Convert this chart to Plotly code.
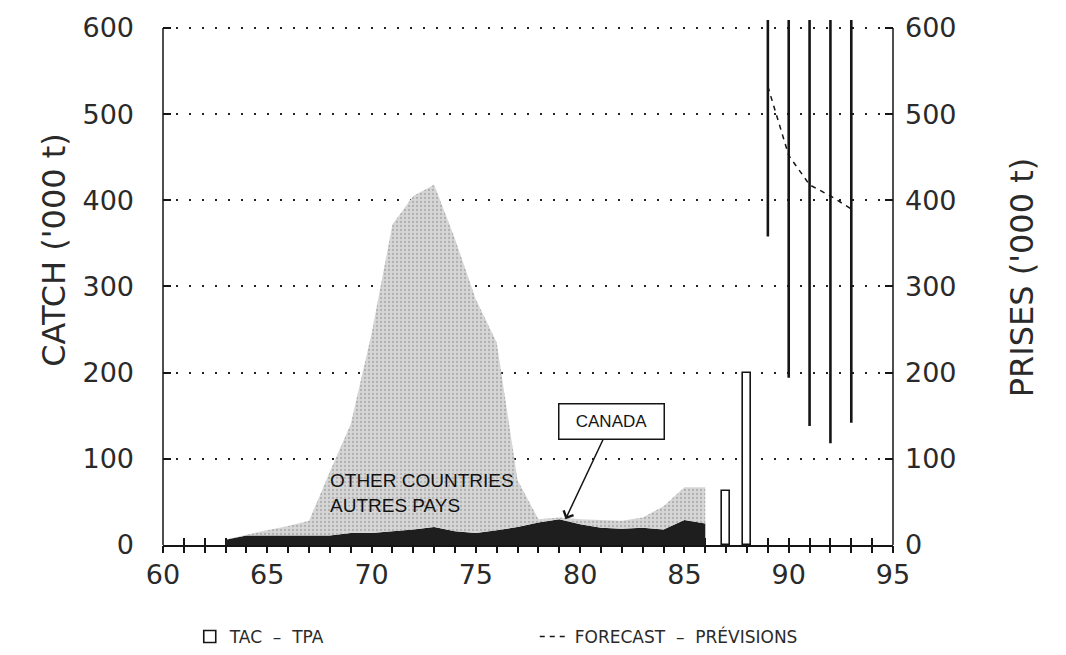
import plotly.graph_objects as go

# Catch by fishing year ('000 t)
years = list(range(63, 87))
canada = [6, 11, 11, 11, 11, 11, 14, 14, 16, 18, 21, 16, 14, 17, 21, 26, 30, 24, 20, 19, 20, 18, 29, 25]
other_countries = [0, 1, 6, 11, 17, 74, 126, 231, 356, 387, 397, 339, 271, 218, 54, 4, 2, 6, 9, 9, 12, 27, 38, 42]

# Total allowable catch
tac_years = [87, 88]
tac = [63, 200]

# Forecast ranges and central forecast
fc_years = [89, 90, 91, 92, 93]
fc_low = [358, 194, 138, 118, 142]
fc_high = [650, 650, 650, 650, 650]
forecast = [532, 452, 418, 405, 390]

x_ticks = list(range(60, 96))
x_labels = [str(v) if v % 5 == 0 else "" for v in x_ticks]
y_ticks = [0, 100, 200, 300, 400, 500, 600]
y_labels = [str(v) for v in y_ticks]

INK = "#151515"
TEXT = "#2a2a2a"
TICK_FONT = dict(family="DejaVu Sans", size=27, color=TEXT)
TITLE_FONT = dict(family="DejaVu Sans", size=32, color=TEXT)

fig = go.Figure()

fig.add_trace(go.Scatter(
    x=years, y=canada, stackgroup="catch", mode="none",
    fillcolor="#1e1e1e", name="CANADA", showlegend=False, hoverinfo="skip"))
fig.add_trace(go.Scatter(
    x=years, y=other_countries, stackgroup="catch", mode="none",
    fillcolor="#d2d2d2",
    fillpattern=dict(shape=".", bgcolor="#d6d6d6", fgcolor="#8a8a8a", size=4, solidity=0.25),
    name="OTHER COUNTRIES", showlegend=False, hoverinfo="skip"))

fig.add_trace(go.Bar(
    x=tac_years, y=tac, width=0.4,
    marker=dict(color="white", line=dict(color=INK, width=1.6)),
    name="TAC\u00a0\u00a0\u2013\u00a0\u00a0TPA"))

range_x, range_y = [], []
for yr, lo, hi in zip(fc_years, fc_low, fc_high):
    range_x += [yr, yr, None]
    range_y += [lo, hi, None]
fig.add_trace(go.Scatter(
    x=range_x, y=range_y, mode="lines",
    line=dict(color=INK, width=2.6), showlegend=False, hoverinfo="skip"))

fig.add_trace(go.Scatter(
    x=fc_years, y=forecast, mode="lines",
    line=dict(color=INK, width=1.5, dash="5px,5px"),
    name="FORECAST\u00a0\u00a0\u2013\u00a0\u00a0PR\u00c9VISIONS"))

# carrier for the outer tick marks and the right-hand scale
fig.add_trace(go.Scatter(x=[], y=[], xaxis="x2", yaxis="y2", showlegend=False, hoverinfo="skip"))

fig.update_layout(
    width=1066, height=655,
    margin=dict(l=163, r=173, t=17, b=110),
    paper_bgcolor="white", plot_bgcolor="white",
    bargap=0,
    xaxis=dict(
        range=[60, 95], tickmode="array", tickvals=x_ticks, ticktext=x_labels,
        ticks="inside", ticklen=7, tickwidth=1.5, tickcolor=INK,
        showline=True, linecolor=INK, linewidth=1.5, showgrid=False, zeroline=False,
        layer="below traces", tickfont=TICK_FONT, ticklabelstandoff=5),
    xaxis2=dict(
        matches="x", overlaying="x", anchor="y", tickmode="array", tickvals=x_ticks,
        ticks="outside", ticklen=7, tickwidth=1.5, tickcolor=INK,
        showticklabels=False, showline=False, showgrid=False, zeroline=False),
    yaxis=dict(
        range=[0, 609.2], tickmode="array", tickvals=y_ticks, ticktext=y_labels,
        ticks="inside", ticklen=8, tickwidth=1.5, tickcolor=INK,
        showline=False, zeroline=False,
        showgrid=True, gridcolor="#222", gridwidth=1.6, griddash="2px,11px",
        tickfont=TICK_FONT, ticklabelstandoff=28),
    yaxis2=dict(
        matches="y", overlaying="y", side="right", anchor="x", tickmode="array",
        tickvals=y_ticks, ticktext=y_labels,
        ticks="inside", ticklen=8, tickwidth=1.5, tickcolor=INK,
        showline=False, showgrid=False, zeroline=False,
        tickfont=TICK_FONT, ticklabelstandoff=11),
    legend=dict(
        orientation="h", traceorder="normal", xref="container", yref="container",
        x=0.178, xanchor="left", y=0.055, yanchor="top",
        entrywidthmode="pixels", entrywidth=300,
        font=dict(family="DejaVu Sans", size=17, color=TEXT),
        bgcolor="rgba(0,0,0,0)"),
    showlegend=True,
)

# vertical scale lines running from 0 to 600
for side in (0, 1):
    fig.add_shape(type="line", xref="paper", yref="y", x0=side, x1=side, y0=0, y1=600,
                  line=dict(color=INK, width=1.5))

fig.add_annotation(text="CATCH ('000 t)", textangle=-90, xref="paper", yref="paper",
                   x=-0.178, y=0.5625, showarrow=False, font=TITLE_FONT)
fig.add_annotation(text="PRISES ('000 t)", textangle=-90, xref="paper", yref="paper",
                   x=1.2055, y=0.51, showarrow=False, font=TITLE_FONT)

fig.add_annotation(text="OTHER COUNTRIES<br>AUTRES PAYS", x=67.9, y=60, xanchor="left",
                   yanchor="middle", align="left", showarrow=False,
                   font=dict(family="Liberation Sans", size=19, color="#111"))

fig.add_annotation(text="CANADA", x=79.3, y=30, axref="x", ayref="y", ax=81.5, ay=143,
                   showarrow=True, arrowhead=4, arrowsize=1.4, arrowwidth=1.5, arrowcolor=INK,
                   standoff=0,
                   font=dict(family="Liberation Sans", size=17, color=INK),
                   bgcolor="white", bordercolor=INK, borderwidth=1.5, borderpad=6,
                   width=92, height=22)

fig.write_html("out.html")
